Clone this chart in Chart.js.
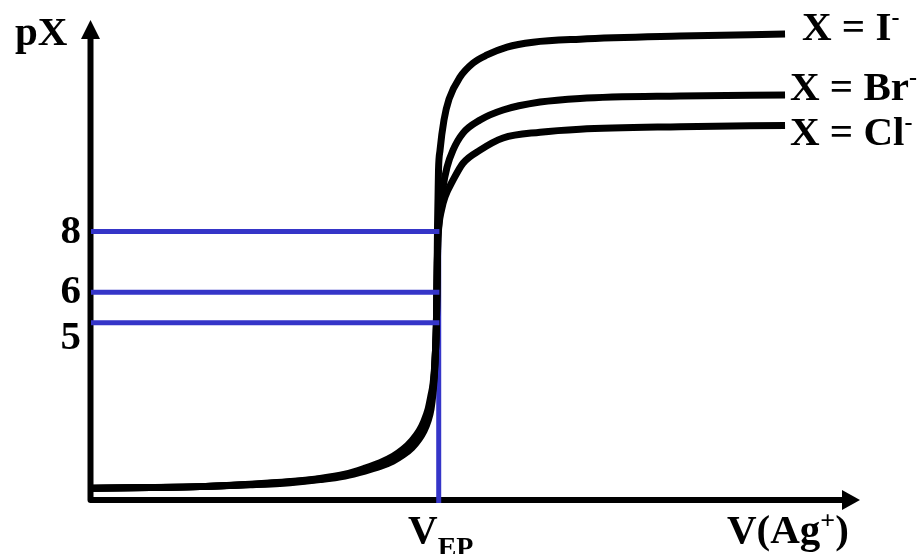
<!DOCTYPE html>
<html>
<head>
    <title>pX titration</title>
    <meta charset="utf-8">
    <script src="https://cdn.jsdelivr.net/npm/chart.js"></script>
    <style>
        body { margin: 0; background: #fff; }
    </style>
</head>
<body>
    <canvas id="myChart" width="921" height="554"></canvas>
    <script>
        // V(Ag+) in arbitrary units, equivalence point at 50
        const vEP = 50;
        const xMax = 110.8;
        const yMin = -0.83;
        const yMax = 14.96;

        // volumes before the jump (same for all three curves)
        const lowV = [0.29, 8.50, 15.71, 22.91, 28.67, 33.0, 36.6, 39.48, 41.64, 43.52, 44.96, 46.25, 47.26, 47.98, 48.56, 48.99, 49.28, 49.5, 49.64, 49.76, 49.83];

        const iLowPX  = [-0.44, -0.42, -0.39, -0.33, -0.26, -0.16, -0.04, 0.12, 0.27, 0.45, 0.65, 0.89, 1.17, 1.44, 1.77, 2.16, 2.69, 3.37, 4.10, 4.89, 5.88];
        const brLowPX = [-0.44, -0.42, -0.39, -0.32, -0.24, -0.14, -0.01, 0.17, 0.34, 0.53, 0.75, 1.01, 1.31, 1.60, 1.96, 2.39, 2.85, 3.44, 4.10, 4.89, 5.88];
        const clLowPX = [-0.44, -0.42, -0.39, -0.31, -0.22, -0.12, 0.02, 0.22, 0.40, 0.61, 0.84, 1.13, 1.44, 1.77, 2.15, 2.62, 2.98, 3.52, 4.10, 4.89, 5.88];

        // after the jump
        const iHighV   = [49.88, 49.93, 50.0, 50.07, 50.29, 50.86, 51.59, 53.17, 55.04, 57.06, 59.94, 63.69, 70.46, 84.87, 100];
        const iHighPX  = [7.06, 8.21, 9.10, 10.02, 10.68, 11.67, 12.36, 13.08, 13.54, 13.81, 14.07, 14.23, 14.33, 14.43, 14.50];
        const brHighV  = [49.90, 49.99, 50.22, 50.72, 51.30, 52.16, 53.6, 56.05, 59.37, 64.7, 70.46, 84.87, 100];
        const brHighPX = [6.96, 7.78, 8.54, 9.46, 10.12, 10.68, 11.24, 11.67, 12.0, 12.26, 12.38, 12.46, 12.49];
        const clHighV  = [49.93, 50.14, 50.50, 51.01, 52.16, 53.6, 56.05, 59.37, 64.7, 70.46, 84.87, 100];
        const clHighPX = [7.39, 8.21, 8.71, 9.14, 9.69, 10.25, 10.68, 11.08, 11.27, 11.37, 11.45, 11.49];

        const curveNames = ['I', 'Br', 'Cl'];
        const markLevels = [8, 6, 5];
        const tickLabels = ['8', '6', '5'];

        function toPoints(xs, ys) {
            var pts = [];
            for (let i = 0; i < xs.length; i++) {
                pts.push({ x: xs[i], y: ys[i] });
            }
            return pts;
        }

        const black = '#000000';
        const blue = '#3535C8';
        const font = 'bold 41px "Liberation Serif", "Times New Roman", serif';

        function curve(lowPX, highV, highPX) {
            return {
                data: toPoints(lowV.concat(highV), lowPX.concat(highPX)),
                borderColor: black,
                borderWidth: 7,
                pointRadius: 0,
                cubicInterpolationMode: 'monotone',
                order: 1
            };
        }

        var datasets = [
            curve(iLowPX, iHighV, iHighPX),
            curve(brLowPX, brHighV, brHighPX),
            curve(clLowPX, clHighV, clHighPX)
        ];

        // horizontal guide lines on top, vertical one under the curves
        markLevels.forEach(function (lvl) {
            datasets.push({
                data: [{ x: 0, y: lvl }, { x: vEP + 0.2, y: lvl }],
                borderColor: blue,
                borderWidth: 5,
                pointRadius: 0,
                order: 0
            });
        });
        datasets.push({
            data: [{ x: vEP + 0.1, y: yMin - 0.1 }, { x: vEP + 0.1, y: markLevels[0] }],
            borderColor: blue,
            borderWidth: 5,
            pointRadius: 0,
            clip: false,
            order: 2
        });

        // text with small raised / lowered parts
        function drawRuns(ctx, x, y, runs) {
            runs.forEach(function (r) {
                ctx.font = 'bold ' + r.size + 'px "Liberation Serif", "Times New Roman", serif';
                ctx.fillText(r.text, x, y + (r.dy || 0));
                x += ctx.measureText(r.text).width;
            });
        }

        const axesPlugin = {
            id: 'axes',
            beforeDatasetsDraw(chart) {
                const ctx = chart.ctx;
                const xs = chart.scales.x;
                const ys = chart.scales.y;
                const x0 = xs.getPixelForValue(0) - 0.5;
                const y0 = ys.getPixelForValue(yMin);
                const xEnd = xs.getPixelForValue(xMax);
                const yEnd = ys.getPixelForValue(yMax);
                ctx.save();
                ctx.fillStyle = black;
                ctx.strokeStyle = black;
                ctx.lineWidth = 6;
                ctx.lineJoin = 'round';
                ctx.beginPath();
                ctx.moveTo(x0, yEnd + 18);
                ctx.lineTo(x0, y0);
                ctx.lineTo(xEnd - 17, y0);
                ctx.stroke();
                // arrow heads
                ctx.beginPath();
                ctx.moveTo(x0, yEnd);
                ctx.lineTo(x0 - 9.5, yEnd + 19);
                ctx.lineTo(x0 + 9.5, yEnd + 19);
                ctx.closePath();
                ctx.fill();
                ctx.beginPath();
                ctx.moveTo(xEnd, y0);
                ctx.lineTo(xEnd - 18, y0 - 10);
                ctx.lineTo(xEnd - 18, y0 + 10);
                ctx.closePath();
                ctx.fill();
                ctx.restore();
            },
            afterDraw(chart) {
                const ctx = chart.ctx;
                const xs = chart.scales.x;
                const ys = chart.scales.y;
                ctx.save();
                ctx.fillStyle = black;
                ctx.textBaseline = 'alphabetic';

                // tick labels on the pX axis
                ctx.font = font;
                ctx.textAlign = 'right';
                var offs = [11, 11, 26];
                markLevels.forEach(function (lvl, i) {
                    ctx.fillText(tickLabels[i], 81, ys.getPixelForValue(lvl) + offs[i]);
                });

                ctx.textAlign = 'left';
                drawRuns(ctx, 15, 45, [{ text: 'pX', size: 41 }]);

                drawRuns(ctx, xs.getPixelForValue(vEP) - 30, 543, [
                    { text: 'V', size: 41 },
                    { text: 'EP', size: 28, dy: 13 }
                ]);
                drawRuns(ctx, 727, 543, [
                    { text: 'V(Ag', size: 41 },
                    { text: '+', size: 26, dy: -14 },
                    { text: ')', size: 41 }
                ]);

                // curve labels
                var labelPos = [[802, 40], [790, 100], [790, 145]];
                curveNames.forEach(function (n, i) {
                    drawRuns(ctx, labelPos[i][0], labelPos[i][1], [
                        { text: 'X = ' + n, size: 41 },
                        { text: '-', size: 24, dy: -15 }
                    ]);
                });
                ctx.restore();
            }
        };

        const c = document.getElementById('myChart');
        new Chart(c, {
            type: 'line',
            data: { datasets: datasets },
            options: {
                responsive: false,
                animation: false,
                layout: { padding: { left: 91, top: 20, right: 61, bottom: 54 } },
                plugins: { legend: { display: false }, tooltip: { enabled: false } },
                scales: {
                    x: { type: 'linear', min: 0, max: xMax, display: false },
                    y: { type: 'linear', min: yMin, max: yMax, display: false }
                }
            },
            plugins: [axesPlugin]
        });
    </script>
</body>
</html>
